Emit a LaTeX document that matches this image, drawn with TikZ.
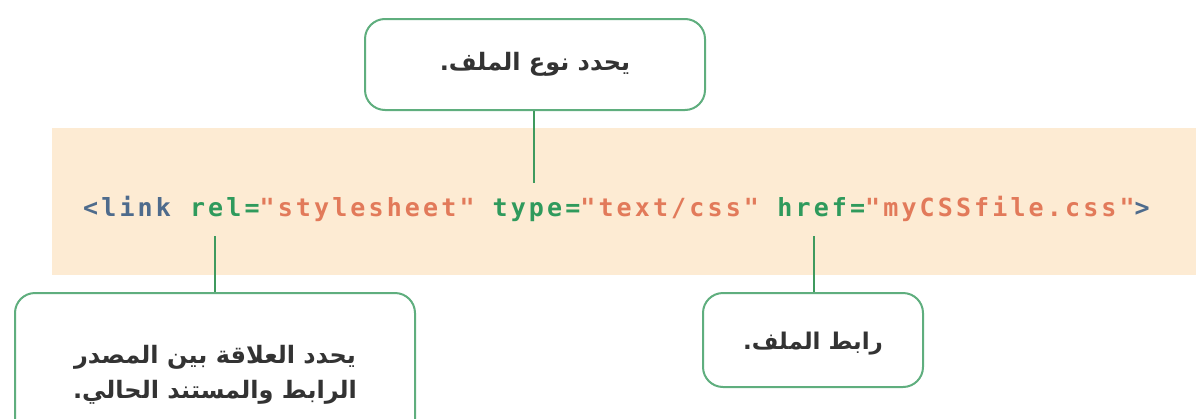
\documentclass[tikz,border=0pt]{standalone}
\usepackage{fontspec}
\TeXXeTstate=1
\newfontfamily\arabicfont[Script=Arabic]{DejaVu Sans}
\newfontfamily\codefont[LetterSpace=12.5]{DejaVu Sans Mono}
\definecolor{bandbg}{HTML}{FDEBD3}
\definecolor{boxgreen}{HTML}{5FAE7E}
\definecolor{linegreen}{HTML}{3F9A5E}
\definecolor{tagblue}{HTML}{4E6B8C}
\definecolor{attrgreen}{HTML}{2F9A5C}
\definecolor{valorange}{HTML}{E27A5A}
\definecolor{txtgray}{HTML}{333333}
\tikzset{
  callout/.style={draw=boxgreen, line width=2pt, rounded corners=20pt, fill=white, align=center, text=txtgray, font=\arabicfont\bfseries\fontsize{24}{35}\selectfont, inner sep=0pt},
  connector/.style={draw=linegreen, line width=2.4pt},
  codepart/.style={anchor=base west, inner sep=0pt, font=\codefont\bfseries\fontsize{25}{28}\selectfont}
}
\begin{document}
\begin{tikzpicture}[x=1pt,y=-1pt]
\useasboundingbox (0,0) rectangle (1204,418);
% band
\fill[bandbg] (52,128) rectangle (1196,275);
% code pieces
\node[codepart] (link) at (83,216) {\textcolor{tagblue}{<link}};
\node[codepart] (rel) at (189.8,216) {\textcolor{attrgreen}{rel=}\textcolor{valorange}{"stylesheet"}};
\node[codepart] (type) at (492.4,216) {\textcolor{attrgreen}{type=}\textcolor{valorange}{"text/css"}};
\node[codepart] (href) at (777.2,216) {\textcolor{attrgreen}{href=}\textcolor{valorange}{"myCSSfile.css"}\textcolor{tagblue}{>}};
% callouts
\node[callout, minimum width=340pt, minimum height=91pt] (top) at (535,64.5) {\beginR يحدد نوع الملف.\endR};
\begin{scope}
\clip (0,0) rectangle (1204,418);
\node[callout, minimum width=400pt, minimum height=158pt] (left) at (215,372) {};
\node[align=center, text=txtgray, font=\arabicfont\bfseries\fontsize{24}{35}\selectfont, inner sep=0pt] (lefttext) at (215,375) {\beginR يحدد العلاقة بين المصدر\endR\\\beginR الرابط والمستند الحالي.\endR};
\end{scope}
\node[callout, minimum width=220pt, minimum height=94pt] (right) at (813,340) {};
\node[text=txtgray, font=\arabicfont\bfseries\fontsize{23}{34}\selectfont, inner sep=0pt] (righttext) at (813,344) {\beginR رابط الملف.\endR};
% connector ends
\coordinate (ctop) at (534,183);
\coordinate (crel) at (215,236);
\coordinate (chref) at (814,236);
\draw[connector] (top.south -| ctop) -- (ctop);
\draw[connector] (crel) -- (left.north -| crel);
\draw[connector] (chref) -- (right.north -| chref);
\end{tikzpicture}
\end{document}
